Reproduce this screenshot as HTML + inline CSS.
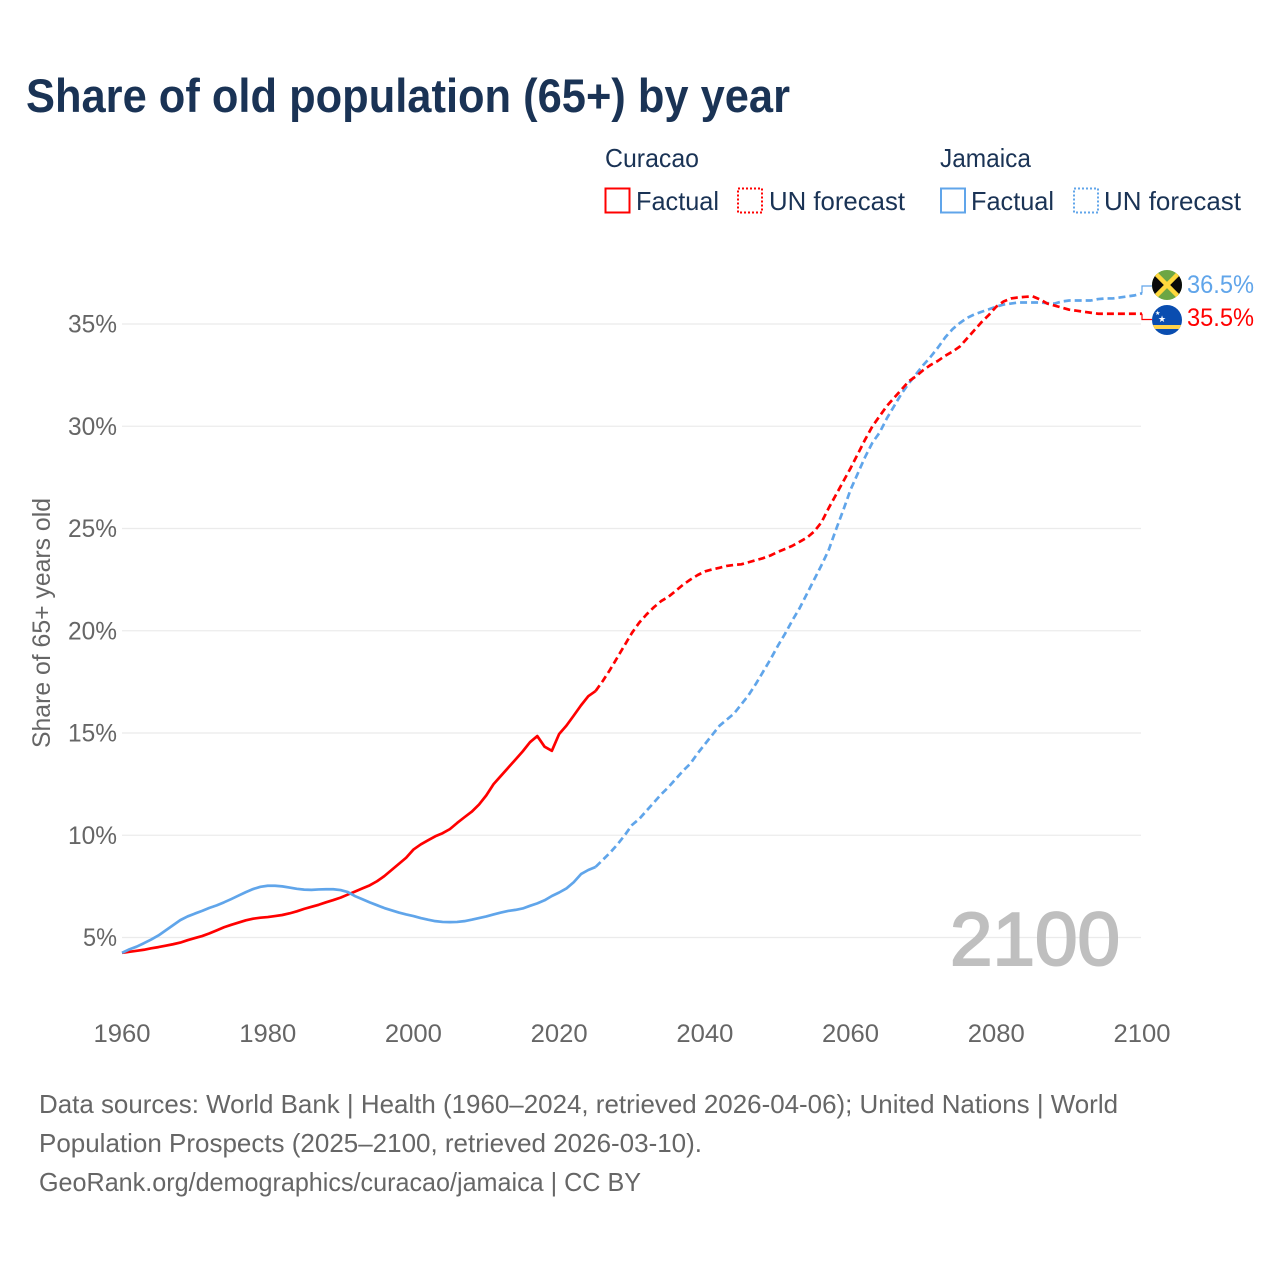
<!DOCTYPE html>
<html lang="en">
<head>
<meta charset="utf-8">
<title>Share of old population (65+) by year</title>
<style>
html,body{margin:0;padding:0;background:#fff;width:1280px;height:1280px;overflow:hidden}
svg{display:block}
text{font-family:"Liberation Sans",sans-serif}
</style>
</head>
<body>
<svg id="chart" xmlns="http://www.w3.org/2000/svg" width="1280" height="1280" viewBox="0 0 1280 1280">
  <defs>
    <clipPath id="jm-clip"><circle cx="1167" cy="285" r="15"/></clipPath>
    <clipPath id="cw-clip"><circle cx="1167" cy="320" r="15"/></clipPath>
  </defs>
  <rect width="1280" height="1280" fill="#fff"/>
  <text x="26" y="112" font-size="47" font-weight="700" fill="#1a3355" textLength="764" lengthAdjust="spacingAndGlyphs">Share of old population (65+) by year</text>

  <g font-size="26" fill="#1a3355">
    <text x="605" y="167" textLength="94" lengthAdjust="spacingAndGlyphs">Curacao</text>
    <rect x="605.5" y="188.5" width="24" height="24" fill="none" stroke="#ff0000" stroke-width="2"/>
    <text x="636" y="210" textLength="83" lengthAdjust="spacingAndGlyphs">Factual</text>
    <rect x="738" y="188.5" width="24" height="24" fill="none" stroke="#ff0000" stroke-width="2" stroke-dasharray="2,2"/>
    <text x="769" y="210" textLength="136" lengthAdjust="spacingAndGlyphs">UN forecast</text>
    <text x="940" y="167" textLength="91" lengthAdjust="spacingAndGlyphs">Jamaica</text>
    <rect x="941" y="188.5" width="24" height="24" fill="none" stroke="#60a5ea" stroke-width="2"/>
    <text x="971" y="210" textLength="83" lengthAdjust="spacingAndGlyphs">Factual</text>
    <rect x="1074" y="188.5" width="24" height="24" fill="none" stroke="#60a5ea" stroke-width="2" stroke-dasharray="2,2"/>
    <text x="1104" y="210" textLength="137" lengthAdjust="spacingAndGlyphs">UN forecast</text>
  </g>

  <g id="grid"></g>
  <g id="yticks" font-size="25" fill="#666"></g>
  <g id="xticks" font-size="25" fill="#666"></g>
  <text transform="translate(50,623) rotate(-90)" text-anchor="middle" font-size="25" fill="#666" textLength="250" lengthAdjust="spacingAndGlyphs">Share of 65+ years old</text>
  <text id="year-watermark" x="950" y="965" font-size="75" fill="#bfbfbf" stroke="#bfbfbf" stroke-width="2" textLength="170" lengthAdjust="spacingAndGlyphs">2100</text>

  <g id="series"></g>
  <g id="endmarks"></g>

  <g clip-path="url(#jm-clip)">
    <rect x="1152" y="270" width="30" height="30" fill="#6ca644"/>
    <polygon points="1152,270 1167,285 1152,300" fill="#0a0a0a"/>
    <polygon points="1182,270 1167,285 1182,300" fill="#0a0a0a"/>
    <line x1="1152" y1="270" x2="1182" y2="300" stroke="#ffd83d" stroke-width="4.5"/>
    <line x1="1182" y1="270" x2="1152" y2="300" stroke="#ffd83d" stroke-width="4.5"/>
  </g>
  <g clip-path="url(#cw-clip)">
    <rect x="1152" y="305" width="30" height="30" fill="#0a4db0"/>
    <rect x="1152" y="325" width="30" height="4" fill="#ffd24a"/>
    <text x="1155" y="315" font-size="6" fill="#fff">★</text>
    <text x="1158" y="322" font-size="9" fill="#fff">★</text>
  </g>

  <g font-size="26" fill="#666">
    <text x="39" y="1113" textLength="1079" lengthAdjust="spacingAndGlyphs">Data sources: World Bank | Health (1960–2024, retrieved 2026-04-06); United Nations | World</text>
    <text x="39" y="1152" textLength="663" lengthAdjust="spacingAndGlyphs">Population Prospects (2025–2100, retrieved 2026-03-10).</text>
    <text x="39" y="1191" textLength="602" lengthAdjust="spacingAndGlyphs">GeoRank.org/demographics/curacao/jamaica | CC BY</text>
  </g>
</svg>
<script>
const factualStartYear = 1960;
const forecastStartYear = 2025;
const xTickLabels = [1960, 1980, 2000, 2020, 2040, 2060, 2080, 2100];
const yTickLabels = [5, 10, 15, 20, 25, 30, 35];

const curacaoFactual = [
  4.25,4.30,4.35,4.40,4.47,4.53,4.60,4.67,4.75,4.87,
  4.97,5.07,5.20,5.35,5.50,5.62,5.73,5.84,5.92,5.97,
  6.00,6.05,6.10,6.18,6.28,6.40,6.50,6.60,6.72,6.83,
  6.95,7.10,7.25,7.40,7.55,7.75,8.00,8.30,8.60,8.90,
  9.30,9.55,9.75,9.95,10.10,10.30,10.60,10.88,11.15,11.50,
  11.95,12.50,12.90,13.30,13.70,14.10,14.55,14.85,14.33,14.13,
  14.95,15.36,15.85,16.35,16.80,17.05
];
const curacaoForecast = [
  17.05,17.55,18.10,18.70,19.30,19.90,20.40,20.80,21.15,21.45,
  21.66,21.95,22.25,22.50,22.72,22.90,23.00,23.08,23.17,23.22,
  23.25,23.35,23.45,23.55,23.68,23.85,24.00,24.15,24.35,24.55,
  24.85,25.30,26.00,26.65,27.30,27.95,28.65,29.35,30.00,30.50,
  31.00,31.40,31.80,32.20,32.45,32.75,33.00,33.20,33.45,33.65,
  33.90,34.30,34.70,35.10,35.45,35.85,36.10,36.25,36.30,36.33,
  36.35,36.20,36.00,35.90,35.80,35.70,35.65,35.60,35.55,35.50,
  35.50,35.50,35.50,35.50,35.50,35.50
];
const jamaicaFactual = [
  4.25,4.42,4.55,4.72,4.90,5.10,5.35,5.60,5.85,6.03,
  6.17,6.30,6.45,6.57,6.72,6.88,7.05,7.22,7.37,7.48,
  7.53,7.53,7.50,7.44,7.38,7.34,7.33,7.35,7.36,7.36,
  7.32,7.22,7.02,6.87,6.72,6.58,6.44,6.33,6.22,6.13,
  6.05,5.95,5.87,5.80,5.76,5.75,5.76,5.80,5.87,5.95,
  6.03,6.13,6.22,6.30,6.35,6.42,6.55,6.67,6.82,7.03,
  7.20,7.40,7.70,8.10,8.30,8.45
];
const jamaicaForecast = [
  8.45,8.80,9.15,9.55,10.00,10.50,10.80,11.20,11.60,12.00,
  12.35,12.75,13.15,13.50,14.00,14.45,14.90,15.35,15.65,15.95,
  16.40,16.85,17.40,18.00,18.60,19.25,19.85,20.50,21.10,21.80,
  22.50,23.20,23.95,24.95,25.90,26.90,27.70,28.50,29.20,29.70,
  30.40,31.00,31.60,32.10,32.55,33.00,33.40,33.85,34.35,34.75,
  35.05,35.30,35.47,35.60,35.72,35.85,35.95,36.00,36.05,36.05,
  36.05,36.05,36.02,36.00,36.10,36.15,36.15,36.15,36.15,36.22,
  36.25,36.25,36.30,36.35,36.40,36.50
];

const SVGNS = 'http://www.w3.org/2000/svg';
const RED = '#ff0000';
const BLUE = '#60a5ea';
function xScale(year) { return 122 + (year - 1960) * (1020 / 140); }
function yScale(pct) { return 937.5 - (pct - 5) * 20.45; }
function make(tag, parent, attrs) {
  const el = document.createElementNS(SVGNS, tag);
  Object.keys(attrs).forEach(function (k) { el.setAttribute(k, attrs[k]); });
  parent.appendChild(el);
  return el;
}

const grid = document.getElementById('grid');
const yticks = document.getElementById('yticks');
const xticks = document.getElementById('xticks');
yTickLabels.forEach(function (v) {
  const line = make('line', grid, { x1: 122, x2: 1141, y1: yScale(v), y2: yScale(v), stroke: '#ebebeb', 'stroke-width': 1.2 });
  
  
  const t = make('text', yticks, { x: 117, y: yScale(v) + 8.5, 'text-anchor': 'end' });
  t.textContent = v + '%';
  t.setAttribute('textLength', v === 5 ? 34 : 49);
  t.setAttribute('lengthAdjust', 'spacingAndGlyphs');
  
  
});
xTickLabels.forEach(function (v) {
  const t = make('text', xticks, { x: xScale(v), y: 1042, 'text-anchor': 'middle' });
  t.textContent = String(v);
  t.setAttribute('textLength', 57);
  t.setAttribute('lengthAdjust', 'spacingAndGlyphs');
  
  
});

function pointsFor(values, startYear) {
  return values.map(function (v, i) {
    return xScale(startYear + i).toFixed(2) + ',' + yScale(v).toFixed(2);
  }).join(' ');
}
const seriesGroup = document.getElementById('series');
function drawSeries(values, startYear, color, dash) {
  const attrs = { points: pointsFor(values, startYear), fill: 'none', stroke: color, 'stroke-width': 2.7, 'stroke-linejoin': 'round' };
  if (dash) { attrs['stroke-dasharray'] = '7,4'; }
  return make('polyline', seriesGroup, attrs);
}
const lineJamF = drawSeries(jamaicaForecast, forecastStartYear, BLUE, true);


const lineCurF = drawSeries(curacaoForecast, forecastStartYear, RED, true);


const lineCur = drawSeries(curacaoFactual, factualStartYear, RED, false);


const lineJam = drawSeries(jamaicaFactual, factualStartYear, BLUE, false);



const endGroup = document.getElementById('endmarks');
const jamLast = jamaicaForecast[jamaicaForecast.length - 1];
const curLast = curacaoForecast[curacaoForecast.length - 1];
const jamEndY = yScale(jamLast);
const curEndY = yScale(curLast);
const connJam = make('polyline', endGroup, { points: '1142,' + jamEndY + ' 1142,286 1152,286', fill: 'none', stroke: BLUE, 'stroke-width': 1.2 });


const connCur = make('polyline', endGroup, { points: '1142,' + curEndY + ' 1142,319.5 1152,319.5', fill: 'none', stroke: RED, 'stroke-width': 1.2 });


const labelJam = make('text', endGroup, { x: 1187, y: 293, 'font-size': 25, fill: BLUE, textLength: 67, lengthAdjust: 'spacingAndGlyphs' });
labelJam.textContent = jamLast.toFixed(1) + '%';


const labelCur = make('text', endGroup, { x: 1187, y: 326, 'font-size': 25, fill: RED, textLength: 67, lengthAdjust: 'spacingAndGlyphs' });
labelCur.textContent = curLast.toFixed(1) + '%';


</script>
</body>
</html>
